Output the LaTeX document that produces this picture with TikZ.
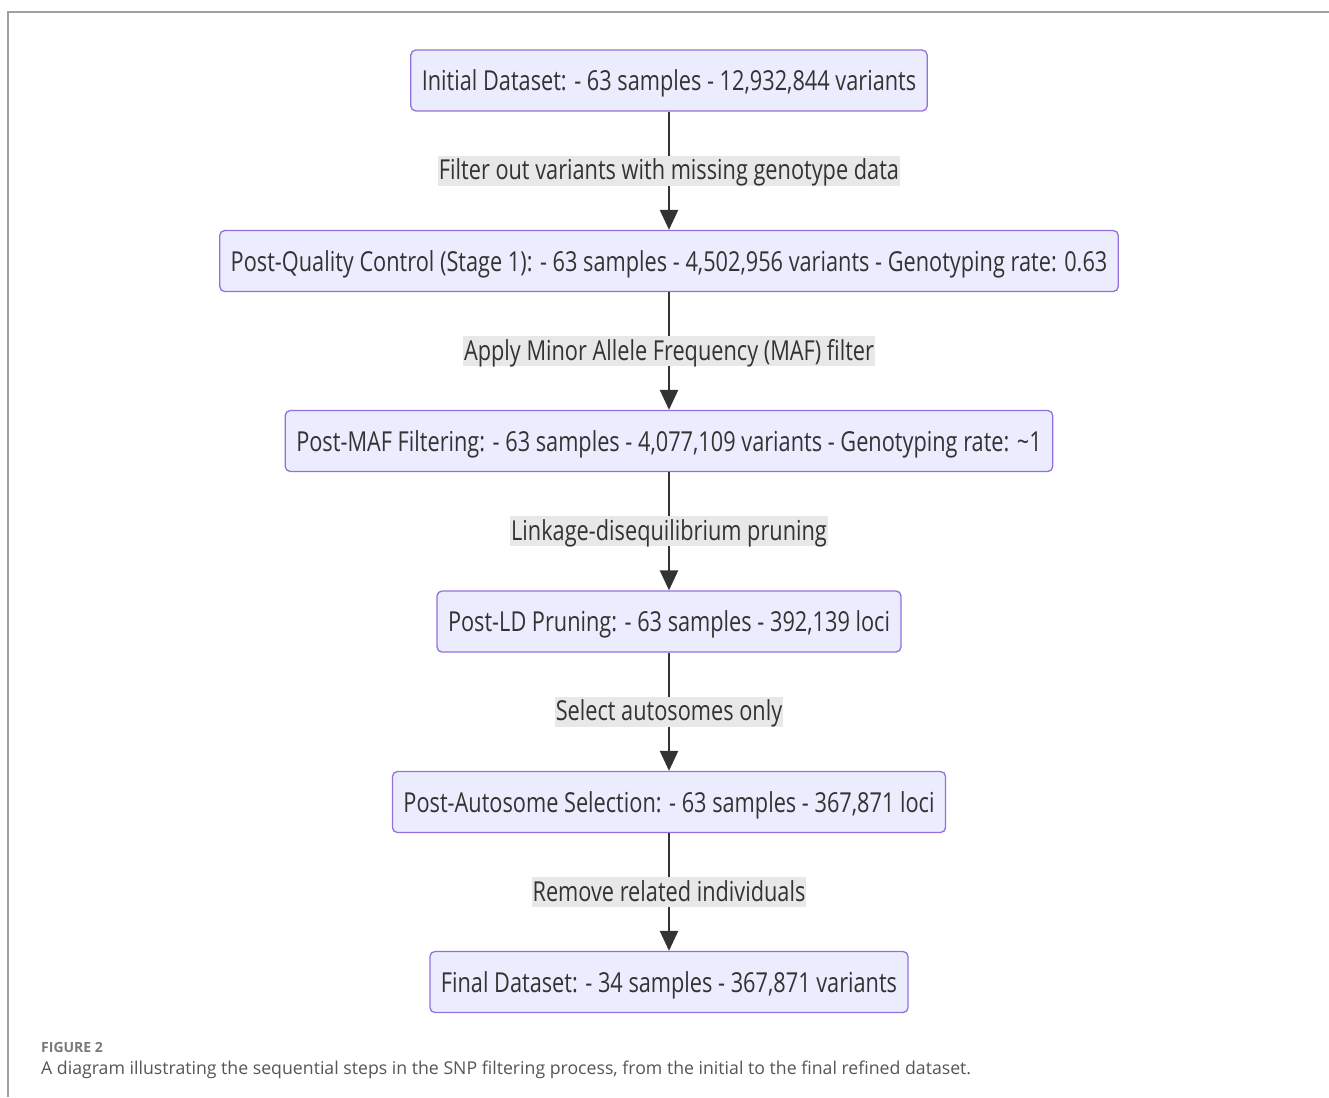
\documentclass[tikz,border=0pt]{standalone}
\usepackage{fontspec}
\setmainfont{Open Sans}[FakeStretch=0.79]
\newfontfamily\captionfont{Open Sans}
\usetikzlibrary{positioning, arrows.meta}
\definecolor{mmfill}{HTML}{ECECFF}
\definecolor{mmborder}{HTML}{9370DB}
\definecolor{mmlabel}{HTML}{E8E8E8}
\definecolor{mmline}{HTML}{333333}
\definecolor{framegray}{HTML}{A0A0A0}
\definecolor{capgray}{HTML}{7A7A7A}
\definecolor{captext}{HTML}{555555}
\newcommand{\boxfont}{\fontsize{27.5}{31}\selectfont}

\begin{document}
\begin{tikzpicture}[x=1pt,y=-1pt,
  stepbox/.style={draw=mmborder, fill=mmfill, line width=1.3pt, rounded corners=5pt,
    minimum height=61pt, inner xsep=11pt, text height=20pt, text depth=0pt,
    text=mmline, font=\boxfont},
  edgelabel/.style={fill=mmlabel, inner xsep=1pt, inner ysep=2pt, text height=22pt,
    text depth=4pt, text=mmline, font=\boxfont},
  arr/.style={draw=mmline, line width=2.4pt, -{Triangle[width=18pt,length=20pt]}}]
\useasboundingbox (0,0) rectangle (1329,1097);
% Frame
\draw[framegray, line width=1.2pt] (8,1097) -- (8,12) -- (1329,12);

% Steps
\node[stepbox] (init) at (669,80.5) {Initial Dataset: - 63 samples - 12,932,844 variants};
\node[stepbox] (qc) at (669,261) {Post-Quality Control (Stage 1): - 63 samples - 4,502,956 variants - Genotyping rate: 0.63};
\node[stepbox] (maf) at (669,441) {Post-MAF Filtering: - 63 samples - 4,077,109 variants - Genotyping rate: \textasciitilde1};
\node[stepbox] (ld) at (669,621.5) {Post-LD Pruning: - 63 samples - 392,139 loci};
\node[stepbox] (auto) at (669,802) {Post-Autosome Selection: - 63 samples - 367,871 loci};
\node[stepbox] (final) at (669,982) {Final Dataset: - 34 samples - 367,871 variants};

% Filters
\draw[arr] (init) -- node[edgelabel] (f1) {Filter out variants with missing genotype data} (qc);
\draw[arr] (qc) -- node[edgelabel] (f2) {Apply Minor Allele Frequency (MAF) filter} (maf);
\draw[arr] (maf) -- node[edgelabel] (f3) {Linkage-disequilibrium pruning} (ld);
\draw[arr] (ld) -- node[edgelabel] (f4) {Select autosomes only} (auto);
\draw[arr] (auto) -- node[edgelabel] (f5) {Remove related individuals} (final);

% Caption
\node[anchor=west, inner sep=0pt, text=capgray, font=\captionfont\bfseries\fontsize{14}{16}\selectfont] (figno) at (41,1047) {FIGURE 2};
\node[anchor=west, inner sep=0pt, text=captext, font=\captionfont\fontsize{17.7}{20}\selectfont] (caption) at (41,1070) {A diagram illustrating the sequential steps in the SNP filtering process, from the initial to the final refined dataset.};
\end{tikzpicture}
\end{document}
